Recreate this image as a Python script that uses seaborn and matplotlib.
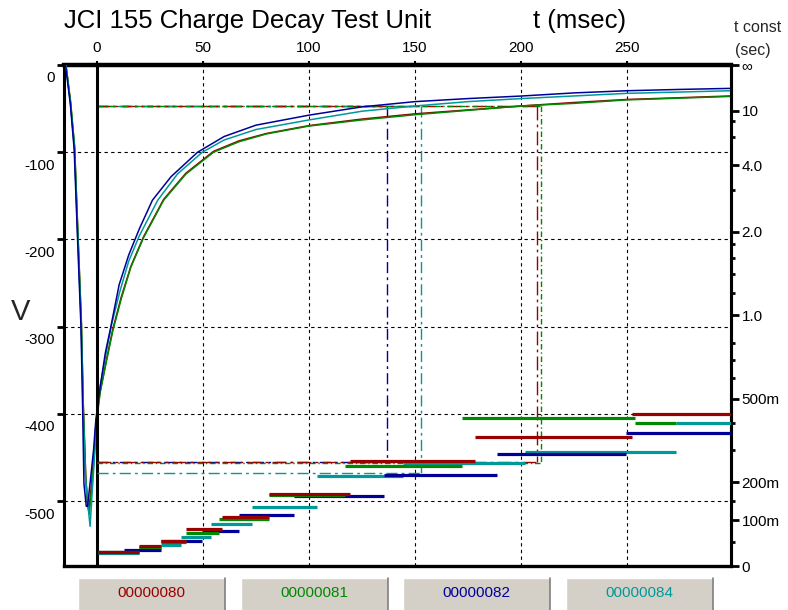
import numpy as np
import pandas as pd
import matplotlib
matplotlib.use("Agg")
import matplotlib.pyplot as plt
import matplotlib.transforms as mtransforms
from matplotlib.patches import Rectangle
from matplotlib.lines import Line2D
import seaborn as sns

# ---------------- data ----------------
series_names = ["00000080", "00000081", "00000082", "00000084"]
series_colors = ["#990000", "#008800", "#000099", "#009999"]

# decay curves: time (ms) and voltage (V)
t_80 = [-14.6, -12.4, -10.5, -8.9, -7.3, -6.4, -5.2, -4.4, -3.8, -2.8, -1.4, -0.4, 1.5, 4.5, 7.5, 11.5, 16, 22, 31.5, 42, 55, 67, 80, 100, 125, 150, 175, 200, 225, 250, 275, 299]
v_80 = [0, -43, -95, -197, -297, -392, -475, -503, -510, -488, -448, -410, -375, -338, -303, -266, -231, -197, -154, -124, -99, -87, -78.5, -69.5, -62, -56, -51.5, -47, -43, -39.5, -37.5, -35.5]
t_81 = [-14.6, -12.4, -10.5, -8.9, -7.3, -6.4, -5.3, -4.3, -3.6, -2.6, -1.3, -0.3, 1.5, 4.5, 7.5, 11.5, 16, 22, 31.5, 42, 55, 67, 80, 100, 125, 150, 175, 200, 225, 250, 275, 299]
v_81 = [0, -42, -93, -195, -295, -390, -470, -505, -515, -490, -450, -412, -376, -340, -305, -268, -232, -198, -155, -125, -100, -88, -79, -70, -63, -57, -52, -47, -44, -40, -38, -36]
t_82 = [-14.8, -12.5, -10.7, -9.1, -7.5, -6.7, -6.1, -5.0, -4.4, -3.0, -1.5, -0.5, 1.5, 4.0, 6.6, 10.5, 15, 20, 26.2, 35, 47.5, 60, 75, 100, 125, 150, 175, 200, 225, 250, 275, 299]
v_82 = [0, -45, -97, -200, -300, -395, -480, -506, -506, -475, -440, -407, -370, -330, -300, -252, -218, -188, -155, -128, -100, -82, -69, -57.5, -48, -42, -38.5, -35.6, -32, -29.5, -28, -26.8]
t_84 = [-14.6, -12.5, -10.6, -9.0, -7.4, -6.5, -5.5, -4.0, -3.2, -2.2, -1.0, -0.3, 1.3, 4.0, 7.0, 10.8, 15, 20, 28.7, 38, 49.7, 60, 75, 100, 125, 150, 175, 200, 225, 250, 275, 299]
v_84 = [0, -43, -95, -198, -298, -395, -470, -510, -529, -490, -445, -410, -372, -335, -297, -260, -225, -196, -155, -125, -100, -86, -74, -63, -53, -47, -42, -38.5, -35.5, -32.5, -31, -29.5]

# time-constant step segments (start ms, end ms, tau s)
seg_start_80 = [0.3, 19.8, 30.1, 41.9, 59.2, 81.1, 119.5, 178.4, 252.1]
seg_end_80 = [19.8, 30.1, 41.9, 59.2, 81.1, 119.5, 178.4, 252.1, 299]
seg_tau_80 = [0.0287, 0.0422, 0.0532, 0.0797, 0.1077, 0.1678, 0.266, 0.346, 0.434]
seg_start_81 = [0.3, 19.8, 30.1, 41.9, 57.6, 81.1, 117.2, 172.1, 253.6]
seg_end_81 = [19.8, 30.1, 41.9, 57.6, 81.1, 117.2, 172.1, 253.6, 273.3]
seg_tau_81 = [0.0277, 0.0394, 0.0497, 0.0698, 0.1028, 0.1651, 0.248, 0.4205, 0.398]
seg_start_82 = [0.3, 12.8, 30.1, 49.7, 67.0, 92.8, 135.2, 188.6, 249.7]
seg_end_82 = [12.8, 30.1, 49.7, 67.0, 92.8, 135.2, 188.6, 249.7, 299]
seg_tau_82 = [0.0294, 0.034, 0.0532, 0.0758, 0.1133, 0.1624, 0.222, 0.288, 0.3625]
seg_start_84 = [0.3, 19.8, 30.1, 39.5, 53.6, 73.3, 103.9, 144.5, 201.9, 273.3]
seg_end_84 = [19.8, 30.1, 39.5, 53.6, 73.3, 103.9, 144.5, 201.9, 273.3, 299]
seg_tau_84 = [0.026, 0.0373, 0.0437, 0.0608, 0.0915, 0.1343, 0.219, 0.258, 0.294, 0.398]

# cursor lines (level V, crossing time ms, tau s)
cursor_series = ["00000082", "00000084", "00000080", "00000081"]
cursor_v = [-47.5, -47.5, -47.5, -47.5]
cursor_t = [136.8, 152.8, 207.4, 209.6]
cursor_tau = [0.263, 0.229, 0.263, 0.26]

x_ticks = [0, 50, 100, 150, 200, 250]
y_ticks = [0, -100, -200, -300, -400, -500]
y_ticklabels = ["0", "-100", "-200", "-300", "-400", "-500"]
BIG = 1e12
tau_major = [0, 0.1, 0.2, 0.5, 1.0, 2.0, 4.0, 10.0, BIG]
tau_major_labels = ["0", "100m", "200m", "500m", "1.0", "2.0", "4.0", "10", "\u221e"]
tau_minor = [0.05, 0.15, 0.3, 0.4, 0.6, 0.7, 0.8, 1.2, 1.4, 1.6, 1.8, 3.0, 6.0, 8.0]

# ---------------- figure ----------------
sns.set_theme(style="white")
plt.rcParams["font.family"] = ["Liberation Sans", "DejaVu Sans"]
plt.rcParams["axes.unicode_minus"] = False

W, H = 788, 610
fig = plt.figure(figsize=(W / 100, H / 100), dpi=100)
fig.patch.set_facecolor("white")
ax = fig.add_axes([64 / W, 44 / H, 667 / W, 501 / H])
ax.set_facecolor("white")

color_map = dict(zip(series_names, series_colors))
curves = pd.concat([
    pd.DataFrame({"t": t_80, "V": v_80, "series": "00000080"}),
    pd.DataFrame({"t": t_81, "V": v_81, "series": "00000081"}),
    pd.DataFrame({"t": t_84, "V": v_84, "series": "00000084"}),
    pd.DataFrame({"t": t_82, "V": v_82, "series": "00000082"}),
], ignore_index=True)

sns.lineplot(data=curves, x="t", y="V", hue="series",
             hue_order=["00000080", "00000081", "00000084", "00000082"],
             palette=color_map, sort=False, estimator=None, legend=False,
             linewidth=1.1, ax=ax, zorder=3)

ax.set_xlim(-15.5, 299)
ax.set_ylim(-574.5, 0)
ax.set_xlabel("")
ax.set_ylabel("")
ax.set_xticks(x_ticks)
ax.set_yticks(y_ticks)
ax.set_yticklabels(y_ticklabels)
ax.xaxis.set_ticks_position("top")
ax.grid(True, color="black", linestyle=(0, (3, 3)), linewidth=0.8, zorder=1)
ax.axvline(0, color="black", linewidth=2.2, zorder=4)
ax.tick_params(axis="x", which="major", top=True, bottom=False, direction="out",
               length=3, width=1.5, labelsize=11, pad=4, colors="black")
ax.tick_params(axis="y", which="major", left=True, direction="out",
               length=5, width=2, labelsize=11, pad=1.5, colors="black")
for sp, lw in [("left", 2.2), ("top", 3.2), ("bottom", 2.4), ("right", 2.2)]:
    ax.spines[sp].set_visible(True)
    ax.spines[sp].set_color("black")
    ax.spines[sp].set_linewidth(lw)
offset = mtransforms.ScaledTranslation(0, -12 / 100, fig.dpi_scale_trans)
for lab in ax.get_yticklabels():
    lab.set_transform(lab.get_transform() + offset)

# right axis : time constant
def fwd(tau):
    tau = np.asarray(tau, dtype=float)
    return tau / (1.0 + tau)

def inv(p):
    p = np.clip(np.asarray(p, dtype=float), 0, 1 - 1e-13)
    return p / (1.0 - p)

ax2 = ax.twinx()
ax2.set_yscale("function", functions=(fwd, inv))
ax2.set_ylim(0, BIG)
ax2.set_yticks(tau_major)
ax2.set_yticklabels(tau_major_labels)
ax2.set_yticks(tau_minor, minor=True)
ax2.tick_params(axis="y", which="major", right=True, direction="out",
                length=6, width=2, labelsize=11, pad=1.5, colors="black")
ax2.tick_params(axis="y", which="minor", right=True, direction="out",
                length=3, width=2, colors="black")
ax2.grid(False)
for sp in ["left", "top", "bottom"]:
    ax2.spines[sp].set_visible(False)
ax2.spines["right"].set_color("black")
ax2.spines["right"].set_linewidth(2.2)

seg_data = {
    "00000084": (seg_start_84, seg_end_84, seg_tau_84),
    "00000082": (seg_start_82, seg_end_82, seg_tau_82),
    "00000081": (seg_start_81, seg_end_81, seg_tau_81),
    "00000080": (seg_start_80, seg_end_80, seg_tau_80),
}
for name, (s0, s1, tau) in seg_data.items():
    ax2.hlines(tau, s0, s1, color=color_map[name], linewidth=2.3, zorder=3)

# cursor lines
styles = {"00000082": (0, (8, 3, 2, 3)), "00000084": (0, (8, 3, 2, 3)),
          "00000080": (0, (10, 3, 2, 3)), "00000081": (0, (4, 2, 1, 2))}
fig.canvas.draw()
for name, v, tc, tau in zip(cursor_series, cursor_v, cursor_t, cursor_tau):
    c = color_map[name]
    ls = styles[name]
    disp = ax2.transData.transform((tc, tau))
    v_bot = ax.transData.inverted().transform(disp)[1]
    ax.plot([0, tc], [v, v], color=c, linestyle=ls, linewidth=1.0, zorder=2)
    ax.plot([tc, tc], [v, v_bot], color=c, linestyle=ls, linewidth=1.0, zorder=2)
    ax2.plot([0, tc], [tau, tau], color=c, linestyle=ls, linewidth=1.0, zorder=2)

# texts
fig.text(64 / W, 1 - 21 / H, "JCI 155 Charge Decay Test Unit", fontsize=18.5,
         ha="left", va="center", color="black")
fig.text(533 / W, 1 - 21 / H, "t (msec)", fontsize=18.5, ha="left", va="center",
         color="black")
fig.text(734 / W, 1 - 27 / H, "t const", fontsize=11.5, ha="left", va="center")
fig.text(735 / W, 1 - 50 / H, "(sec)", fontsize=11.5, ha="left", va="center")
fig.text(21 / W, 1 - 312 / H, "V", fontsize=21, ha="center", va="center")

# legend buttons
btn_left = [78, 241, 403, 566]
btn_w = 147
for bx, name in zip(btn_left, series_names):
    fig.patches.append(Rectangle((bx / W, 0), btn_w / W, 32 / H,
                                 transform=fig.transFigure, facecolor="#D4D0C8",
                                 edgecolor="none", zorder=1))
    fig.lines.append(Line2D([bx / W, (bx + btn_w) / W], [32 / H, 32 / H],
                            transform=fig.transFigure, color="white", lw=1))
    fig.lines.append(Line2D([bx / W, bx / W], [0, 32 / H],
                            transform=fig.transFigure, color="white", lw=1))
    fig.lines.append(Line2D([(bx + btn_w) / W, (bx + btn_w) / W], [0, 32 / H],
                            transform=fig.transFigure, color="#808080", lw=1.2))
    fig.text((bx + btn_w / 2) / W, 17 / H, name, fontsize=11, ha="center",
             va="center", color=color_map[name])

fig.savefig("out.png", dpi=100, facecolor="white")
